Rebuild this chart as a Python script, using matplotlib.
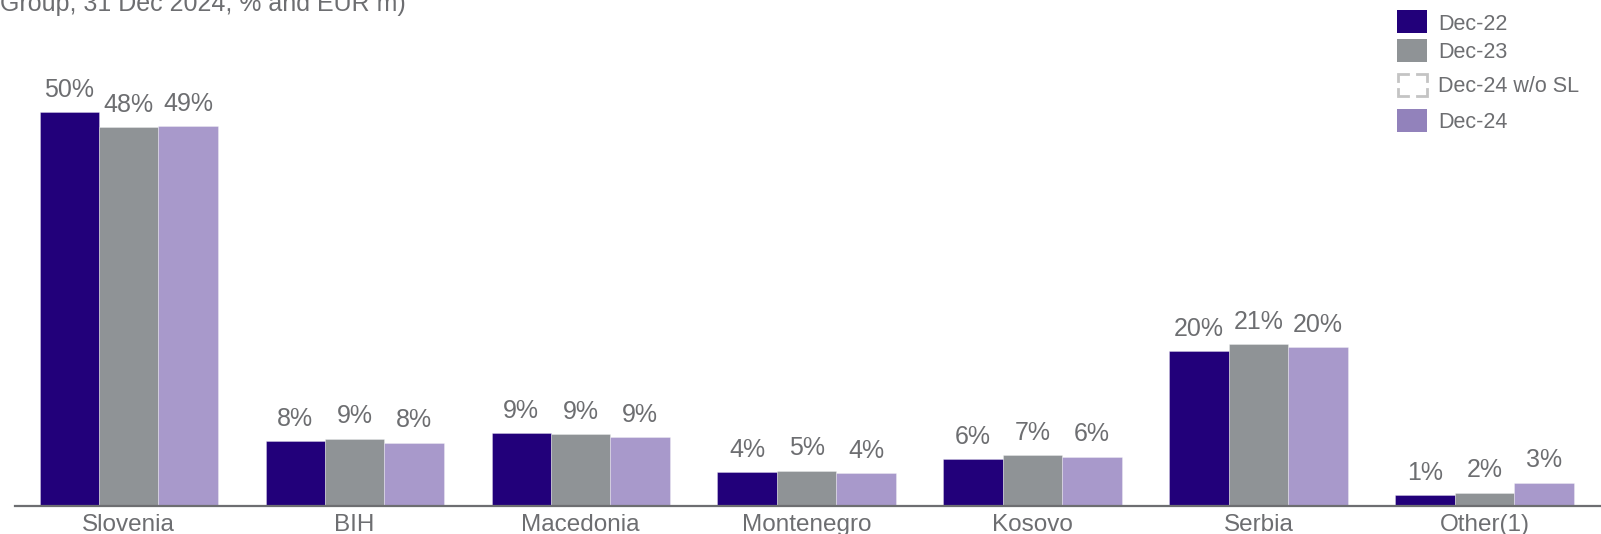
import matplotlib
matplotlib.use("Agg")
import matplotlib.pyplot as plt
from matplotlib.patches import Rectangle
from matplotlib.lines import Line2D
import numpy as np

plt.rcParams['font.family'] = ['Liberation Sans', 'DejaVu Sans']

categories = ["Slovenia", "BIH", "Macedonia", "Montenegro", "Kosovo", "Serbia", "Other(1)"]
dec22 = [50.3, 8.3, 9.3, 4.3, 6.0, 19.8, 1.4]
dec23 = [48.4, 8.6, 9.2, 4.5, 6.5, 20.7, 1.7]
dec24 = [48.5, 8.1, 8.8, 4.2, 6.3, 20.3, 3.0]
lab22 = ["50%", "8%", "9%", "4%", "6%", "20%", "1%"]
lab23 = ["48%", "9%", "9%", "5%", "7%", "21%", "2%"]
lab24 = ["49%", "8%", "9%", "4%", "6%", "20%", "3%"]
legend_labels = ["Dec-22", "Dec-23", "Dec-24 w/o SL", "Dec-24"]
title = "Group, 31 Dec 2024, % and EUR m)"

c22 = "#22007a"
c23 = "#8f9396"
c24 = "#a899cb"
c24_leg = "#9282bb"
txt = "#6d6e71"

W, H = 1601, 534
fig = plt.figure(figsize=(W / 100, H / 100), dpi=100)
ax = fig.add_axes([15 / W, 28 / H, 1 - 15 / W, 1 - 28 / H])

x = np.arange(len(categories))
bw = 0.263
series = [(dec22, lab22, c22), (dec23, lab23, c23), (dec24, lab24, c24)]
for i, (vals, labs, col) in enumerate(series):
    xs = x + (i - 1) * bw
    ax.bar(xs, vals, width=bw, color=col, edgecolor=(1, 1, 1, 0.35), linewidth=0.6)
    for xi, v, l in zip(xs, vals, labs):
        ax.annotate(l, (xi, v), xytext=(0, 11), textcoords="offset points",
                    ha="center", va="baseline", fontsize=18, color=txt)

for xi, c in zip(x, categories):
    ax.annotate(c, (xi, 0), xytext=(0, -18), textcoords="offset points",
                ha="center", va="baseline", fontsize=17.5, color=txt,
                annotation_clip=False)

ax.set_xlim(-0.503, 6.515)
ax.set_ylim(0, 64.6)
for s in ["top", "right", "left"]:
    ax.spines[s].set_visible(False)
ax.spines["bottom"].set_color(txt)
ax.spines["bottom"].set_linewidth(1.6)
ax.set_xticks([])
ax.set_yticks([])

# legend (manual, figure pixel coordinates)
def fx(px):
    return px / W

def fy(py):
    return 1 - py / H

rows_y = [10, 39, 73, 109]
sw, sh = 30, 23
for lab, ry, kind in zip(legend_labels, rows_y, ["s22", "s23", "dash", "s24"]):
    if kind == "dash":
        x0, x1 = 1398, 1427
        y0, y1 = ry + 1, ry + 23
        ah, av = 10, 7
        corners = [
            [(x0 + ah, y0), (x0, y0), (x0, y0 + av)],
            [(x1 - ah, y0), (x1, y0), (x1, y0 + av)],
            [(x0 + ah, y1), (x0, y1), (x0, y1 - av)],
            [(x1 - ah, y1), (x1, y1), (x1, y1 - av)],
        ]
        for pts in corners:
            fig.add_artist(Line2D([fx(p[0]) for p in pts], [fy(p[1]) for p in pts],
                                  transform=fig.transFigure, color="#c4c4c4",
                                  linewidth=2.0, solid_joinstyle="miter"))
    else:
        col = {"s22": c22, "s23": c23, "s24": c24_leg}[kind]
        r = Rectangle((fx(1397), fy(ry + sh)), fx(sw), sh / H,
                      transform=fig.transFigure, facecolor=col, edgecolor="none")
        fig.add_artist(r)
    fig.text(fx(1438), fy(ry + sh / 2), lab, ha="left", va="center_baseline",
             fontsize=15.5, color=txt)

fig.text(fx(0), fy(11), title, ha="left", va="baseline", fontsize=18, color=txt)

fig.savefig("out.png", dpi=100)
